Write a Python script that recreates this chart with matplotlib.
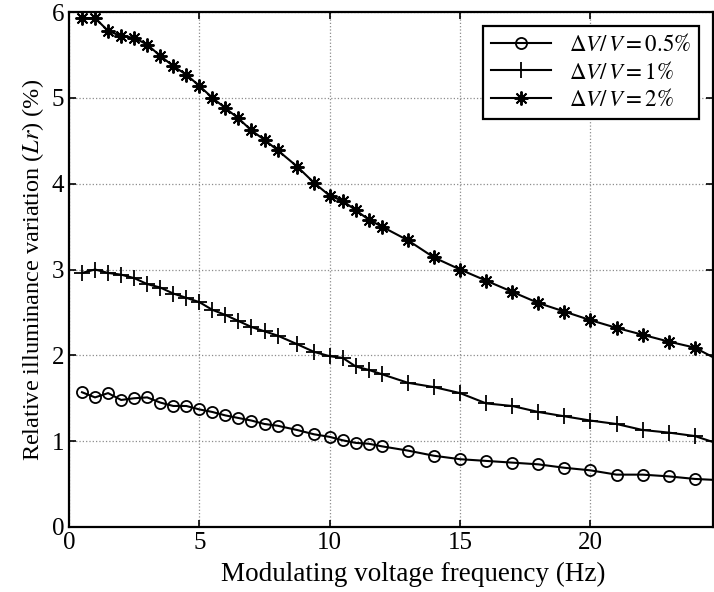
import matplotlib
matplotlib.use("Agg")
import matplotlib.pyplot as plt

plt.rcParams["font.family"] = ["Liberation Serif", "DejaVu Serif"]
plt.rcParams["mathtext.fontset"] = "stix"

# frequency points (Hz), the last one lies past the right edge
freq = [0.5, 1, 1.5, 2, 2.5, 3, 3.5, 4, 4.5, 5, 5.5, 6, 6.5, 7, 7.5, 8, 8.75,
        9.4, 10, 10.5, 11, 11.5, 12, 13, 14, 15, 16, 17, 18, 19, 20, 21, 22,
        23, 24, 25]

lr_05 = [1.57, 1.51, 1.56, 1.48, 1.50, 1.51, 1.45, 1.41, 1.41, 1.37, 1.34,
         1.30, 1.27, 1.24, 1.20, 1.18, 1.13, 1.08, 1.05, 1.01, 0.98, 0.97,
         0.94, 0.89, 0.83, 0.79, 0.77, 0.75, 0.73, 0.69, 0.66, 0.61, 0.61,
         0.59, 0.56, 0.545]
lr_1 = [2.96, 3.00, 2.96, 2.94, 2.90, 2.83, 2.79, 2.72, 2.67, 2.62, 2.53,
        2.47, 2.40, 2.33, 2.28, 2.23, 2.13, 2.04, 1.99, 1.97, 1.87, 1.83,
        1.78, 1.68, 1.63, 1.56, 1.44, 1.41, 1.34, 1.29, 1.24, 1.20, 1.13,
        1.10, 1.06, 0.96]
lr_2 = [5.93, 5.93, 5.78, 5.72, 5.70, 5.62, 5.49, 5.37, 5.27, 5.14, 5.00,
        4.88, 4.76, 4.62, 4.51, 4.39, 4.20, 4.01, 3.86, 3.80, 3.69, 3.58,
        3.50, 3.34, 3.14, 3.00, 2.87, 2.74, 2.61, 2.51, 2.41, 2.32, 2.24,
        2.16, 2.09, 1.93]

fig = plt.figure(figsize=(7.14, 5.92), dpi=100)
ax = fig.add_axes([0.0966, 0.1098, 0.9020, 0.8699])

# matlab style asterisk: 8 spokes
star = (8, 2, 0)

ax.plot(freq, lr_05, "k-o", lw=1.5, ms=8, mfc="none", mew=1.3,
        label=r"$\Delta V/\,V = 0.5\%$")
ax.plot(freq, lr_1, "k-+", lw=1.5, ms=11, mew=1.3,
        label=r"$\Delta V/\,V = 1\%$")
ax.plot(freq, lr_2, "k-", marker=star, lw=1.5, ms=10, mew=1.4,
        label=r"$\Delta V/\,V = 2\%$")

ax.set_xlim(0, 24.7)
ax.set_ylim(0, 6)
ax.set_xticks([0, 5, 10, 15, 20])
ax.set_yticks([0, 1, 2, 3, 4, 5, 6])
ax.grid(True, ls=":", color="0.55", lw=0.9)
ax.tick_params(direction="in", top=True, right=True, length=5, width=1.2,
               labelsize=18)
for s in ax.spines.values():
    s.set_linewidth(1.6)

ax.set_xlabel("Modulating voltage frequency (Hz)", fontsize=19.5)
ax.xaxis.set_label_coords(0.534, -0.068)
ax.set_ylabel(r"Relative illuminance variation ($Lr$) (%)", fontsize=17.5,
              labelpad=4)

leg = ax.legend(loc="upper right", fontsize=16.5, frameon=True,
                fancybox=False, edgecolor="black", framealpha=1,
                handlelength=2.6, borderpad=0.35, labelspacing=0.25,
                borderaxespad=0.6)
leg.get_frame().set_linewidth(1.6)

fig.savefig("out.png", dpi=100)
